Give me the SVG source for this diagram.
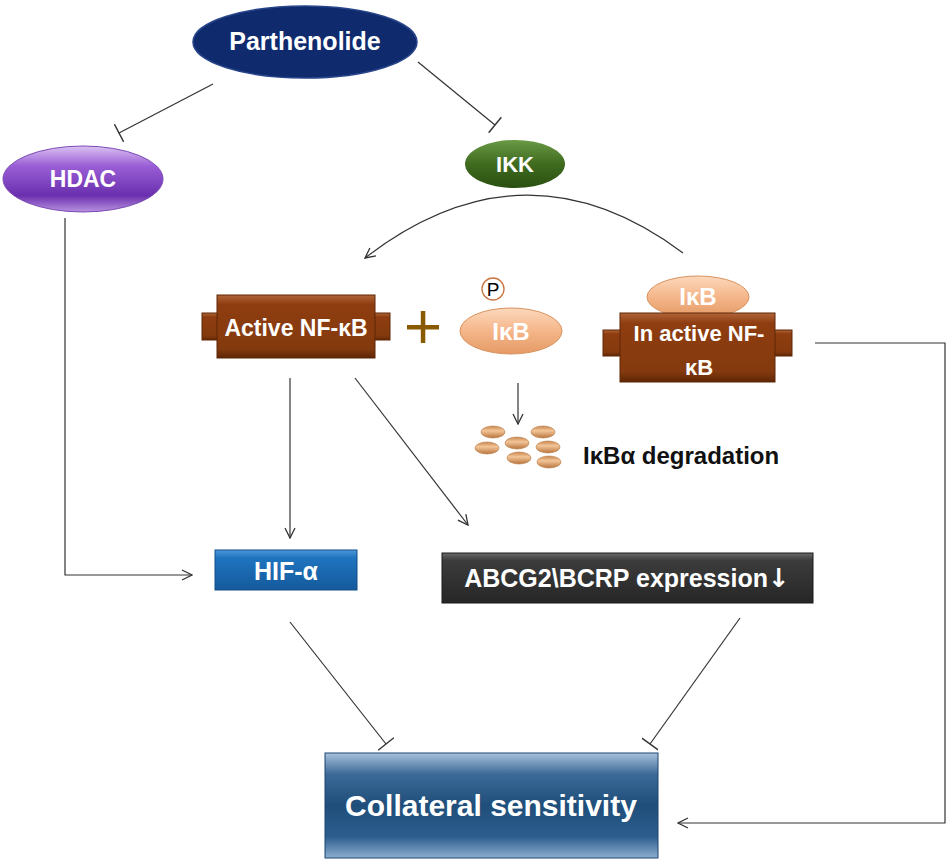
<svg xmlns="http://www.w3.org/2000/svg" width="950" height="862" viewBox="0 0 950 862">
<defs>
<style>
.lbl{font-family:"Liberation Sans",Arial,sans-serif;font-weight:bold;fill:#fff;text-anchor:middle}
.con{fill:none;stroke:#333;stroke-width:1.2}
</style>
<linearGradient id="gPurple" x1="0" y1="0" x2="0" y2="1">
<stop offset="0" stop-color="#dcc2f2"/><stop offset="0.3" stop-color="#9a5fd6"/><stop offset="0.75" stop-color="#6a2fae"/><stop offset="1" stop-color="#b892e0"/>
</linearGradient>
<linearGradient id="gGreen" x1="0" y1="0" x2="0" y2="1">
<stop offset="0" stop-color="#6a9a45"/><stop offset="0.5" stop-color="#3f6b1f"/><stop offset="1" stop-color="#2a4f10"/>
</linearGradient>
<linearGradient id="gBrown" x1="0" y1="0" x2="0" y2="1">
<stop offset="0" stop-color="#b0653a"/><stop offset="0.15" stop-color="#8e3d10"/><stop offset="0.85" stop-color="#843a0e"/><stop offset="1" stop-color="#5e2606"/>
</linearGradient>
<linearGradient id="gPeach" x1="0" y1="0" x2="0" y2="1">
<stop offset="0" stop-color="#fcd8bc"/><stop offset="0.5" stop-color="#f5b68a"/><stop offset="1" stop-color="#e49a66"/>
</linearGradient>
<linearGradient id="gBead" x1="0" y1="0" x2="0" y2="1">
<stop offset="0" stop-color="#c9874f"/><stop offset="0.4" stop-color="#f3c598"/><stop offset="1" stop-color="#b8743e"/>
</linearGradient>
<linearGradient id="gBlue" x1="0" y1="0" x2="0" y2="1">
<stop offset="0" stop-color="#4c98da"/><stop offset="0.2" stop-color="#1f74bf"/><stop offset="1" stop-color="#155a9c"/>
</linearGradient>
<linearGradient id="gGray" x1="0" y1="0" x2="0" y2="1">
<stop offset="0" stop-color="#6a6a6a"/><stop offset="0.15" stop-color="#3c3c3c"/><stop offset="1" stop-color="#262626"/>
</linearGradient>
<linearGradient id="gColl" x1="0" y1="0" x2="0" y2="1">
<stop offset="0" stop-color="#a9c2dc"/><stop offset="0.2" stop-color="#3c6a98"/><stop offset="0.5" stop-color="#1f4e7a"/><stop offset="0.8" stop-color="#2d5e8e"/><stop offset="1" stop-color="#8eaed0"/>
</linearGradient>
<marker id="arr" viewBox="0 0 12 12" refX="11" refY="6" markerWidth="12" markerHeight="12" markerUnits="userSpaceOnUse" orient="auto">
<path d="M1,1 L11,6 L1,11" fill="none" stroke="#333" stroke-width="1.3"/>
</marker>
<marker id="tee" viewBox="0 0 4 20" refX="2" refY="10" markerWidth="4" markerHeight="20" markerUnits="userSpaceOnUse" orient="auto">
<path d="M2,0 L2,20" fill="none" stroke="#333" stroke-width="1.4"/>
</marker>
</defs>
<rect width="950" height="862" fill="#fff"/>

<g id="connectors">
<path class="con" d="M213,84 L119,133" marker-end="url(#tee)"/>
<path class="con" d="M418,62 L495,125" marker-end="url(#tee)"/>
<path class="con" d="M65,218 L65,575 L192,575" marker-end="url(#arr)"/>
<path class="con" d="M683,253 Q525,135 365,258" marker-end="url(#arr)"/>
<path class="con" d="M290,378 L290,538" marker-end="url(#arr)"/>
<path class="con" d="M355,378 L468,525" marker-end="url(#arr)"/>
<path class="con" d="M518,383 L518,424" marker-end="url(#arr)"/>
<path class="con" d="M815,343 L945,343 L945,823 L678,823" marker-end="url(#arr)"/>
<path class="con" d="M290,622 L386,744" marker-end="url(#tee)"/>
<path class="con" d="M740,618 L650,744" marker-end="url(#tee)"/>
</g>

<g id="parthenolide">
<ellipse cx="305" cy="42" rx="112" ry="36" fill="#0f2b6e" stroke="#28458a" stroke-width="1.5"/>
<text class="lbl" x="305" y="50" font-size="25">Parthenolide</text>
</g>

<g id="hdac">
<ellipse cx="83" cy="179" rx="80" ry="33" fill="url(#gPurple)" stroke="#7a4ab5" stroke-width="1"/>
<text class="lbl" x="83" y="187" font-size="23">HDAC</text>
</g>

<g id="ikk">
<ellipse cx="515" cy="164" rx="50" ry="24" fill="url(#gGreen)"/>
<text class="lbl" x="515" y="172" font-size="22" font-weight="normal">IKK</text>
</g>

<g id="active-nfkb">
<rect x="202" y="313" width="188" height="27" fill="url(#gBrown)" stroke="#5e2606" stroke-width="1"/>
<rect x="217" y="295" width="158" height="63" fill="url(#gBrown)" stroke="#5e2606" stroke-width="1"/>
<text class="lbl" x="296" y="336" font-size="23">Active NF-κB</text>
</g>

<g id="plus">
<rect x="407" y="325" width="32" height="4.5" fill="#8a5a00"/>
<rect x="420.8" y="311" width="4.5" height="32" fill="#8a5a00"/>
</g>

<g id="p-ikb">
<ellipse cx="511" cy="331" rx="51" ry="23" fill="url(#gPeach)" stroke="#d9935f" stroke-width="1"/>
<text class="lbl" x="511" y="340" font-size="24">IκB</text>
<circle cx="493" cy="289" r="11" fill="#fff" stroke="#c9753f" stroke-width="1.3"/>
<text x="493" y="296" font-family="'Liberation Sans',Arial,sans-serif" font-size="19" text-anchor="middle" fill="#000">P</text>
</g>

<g id="inactive-nfkb">
<ellipse cx="698" cy="297" rx="51" ry="21" fill="url(#gPeach)" stroke="#d9935f" stroke-width="1"/>
<text class="lbl" x="698" y="305" font-size="24">IκB</text>
<rect x="603" y="330" width="189" height="26" fill="url(#gBrown)" stroke="#5e2606" stroke-width="1"/>
<rect x="620" y="313" width="155" height="69" fill="url(#gBrown)" stroke="#5e2606" stroke-width="1"/>
<text class="lbl" x="699" y="341" font-size="22">In active NF-</text>
<text class="lbl" x="699" y="375" font-size="22">κB</text>
</g>

<g id="degradation">
<g fill="url(#gBead)" stroke="#b87a45" stroke-width="0.6">
<ellipse cx="493" cy="432" rx="12" ry="6"/>
<ellipse cx="543" cy="432" rx="12" ry="6"/>
<ellipse cx="487" cy="448" rx="12" ry="6"/>
<ellipse cx="517" cy="443" rx="12" ry="6"/>
<ellipse cx="548" cy="447" rx="12" ry="6"/>
<ellipse cx="519" cy="458" rx="12" ry="6"/>
<ellipse cx="549" cy="462" rx="12" ry="6"/>
</g>
<text x="583" y="464" font-family="'Liberation Sans',Arial,sans-serif" font-weight="bold" font-size="24" fill="#111">IκBα degradation</text>
</g>

<g id="hif">
<rect x="215" y="550" width="142" height="40" fill="url(#gBlue)" stroke="#124e88" stroke-width="1"/>
<text class="lbl" x="286" y="580" font-size="25">HIF-α</text>
</g>

<g id="abcg2">
<rect x="442" y="553" width="371" height="50" fill="url(#gGray)" stroke="#1a1a1a" stroke-width="1"/>
<text class="lbl" x="627" y="587" font-size="25">ABCG2\BCRP expression<tspan font-family="'DejaVu Sans',sans-serif" font-size="26">↓</tspan></text>
</g>

<g id="collateral">
<rect x="325" y="753" width="333" height="105" fill="url(#gColl)" stroke="#1a4470" stroke-width="1"/>
<text class="lbl" x="491" y="816" font-size="30">Collateral sensitivity</text>
</g>
</svg>
